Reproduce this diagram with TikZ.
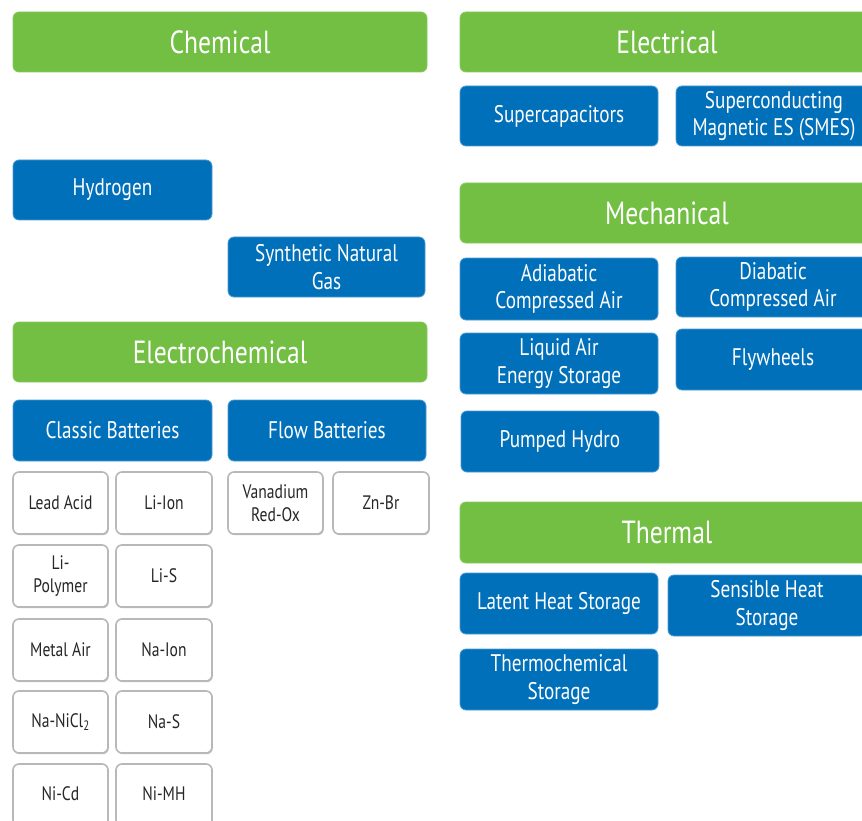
\documentclass[tikz,border=0pt]{standalone}
\usepackage{fontspec}
\setmainfont[FakeStretch=0.8]{PT Sans}
\usetikzlibrary{shadows}
\definecolor{grn}{HTML}{72BF44}
\definecolor{blu}{HTML}{0070BA}
\tikzset{
  base/.style={rounded corners=6pt, inner sep=0pt, align=center},
  grnbox/.style={base, fill=grn, draw=grn!85!white, line width=0.8pt, text=white, font=\fontsize{32}{36}\selectfont},
  blubox/.style={base, fill=blu, draw=blu!70!white, line width=0.8pt, text=white, font=\fontsize{24}{27.5}\selectfont},
  whtbox/.style={base, fill=white, draw=black!28, line width=1.6pt, text=black!85, font=\fontsize{19.5}{23}\selectfont,
     drop shadow={shadow xshift=0.8pt, shadow yshift=-1.2pt, opacity=0.25, fill=black}},
}
\newcommand\bx[7]{\node[#6, minimum width={(#4-#2)*1pt}, minimum height={(#5-#3)*1pt}] (#1) at ({(#2+#4)/2},{(#3+#5)/2}) {#7};}
\begin{document}
\begin{tikzpicture}[x=1pt,y=-1pt]
\clip (0,0) rectangle (862,821);
% left column
\bx{chem}{13}{12}{427}{72}{grnbox}{Chemical}
\bx{hyd}{13}{160}{212}{220}{blubox}{Hydrogen}
\bx{sng}{228}{237}{425}{297}{blubox}{Synthetic Natural\\Gas}
\bx{echem}{13}{322}{427}{382}{grnbox}{Electrochemical}
\bx{classic}{13}{400}{212}{461}{blubox}{Classic Batteries}
\bx{flow}{228}{400}{426}{461}{blubox}{Flow Batteries}
\bx{lead}{13}{472}{108}{534}{whtbox}{Lead Acid}
\bx{liion}{116}{472}{212}{534}{whtbox}{Li-Ion}
\bx{vrox}{228}{472}{323}{534}{whtbox}{Vanadium\\Red-Ox}
\bx{znbr}{333}{472}{429}{534}{whtbox}{Zn-Br}
\bx{lipol}{13}{545}{108}{607}{whtbox}{Li-\\Polymer}
\bx{lis}{116}{545}{212}{607}{whtbox}{Li-S}
\bx{metair}{13}{619}{108}{681}{whtbox}{Metal Air}
\bx{naion}{116}{619}{212}{681}{whtbox}{Na-Ion}
\bx{nanicl}{13}{691}{108}{753}{whtbox}{Na-NiCl\textsubscript{2}}
\bx{nas}{116}{691}{212}{753}{whtbox}{Na-S}
\bx{nicd}{13}{764}{108}{826}{whtbox}{\raisebox{3pt}{Ni-Cd}}
\bx{nimh}{116}{764}{212}{826}{whtbox}{\raisebox{3pt}{Ni-MH}}
% right column
\bx{elec}{460}{12}{874}{72}{grnbox}{Electrical}
\bx{supcap}{460}{86}{658}{146}{blubox}{Supercapacitors}
\bx{smes}{676}{86}{872}{146}{blubox}{Superconducting\\Magnetic ES (SMES)}
\bx{mech}{460}{183}{874}{243}{grnbox}{Mechanical}
\bx{adia}{460}{258}{658}{320}{blubox}{Adiabatic\\Compressed Air}
\bx{diab}{676}{257}{870}{317}{blubox}{Diabatic\\Compressed Air}
\bx{liqair}{460}{333}{658}{394}{blubox}{Liquid Air\\Energy Storage}
\bx{fly}{676}{329}{870}{390}{blubox}{Flywheels}
\bx{pump}{461}{411}{659}{472}{blubox}{Pumped Hydro}
\bx{therm}{460}{502}{874}{563}{grnbox}{Thermal}
\bx{latent}{460}{573}{658}{634}{blubox}{Latent Heat Storage}
\bx{sens}{668}{575}{866}{636}{blubox}{Sensible Heat\\Storage}
\bx{thchem}{460}{649}{658}{710}{blubox}{Thermochemical\\Storage}
\end{tikzpicture}
\end{document}
